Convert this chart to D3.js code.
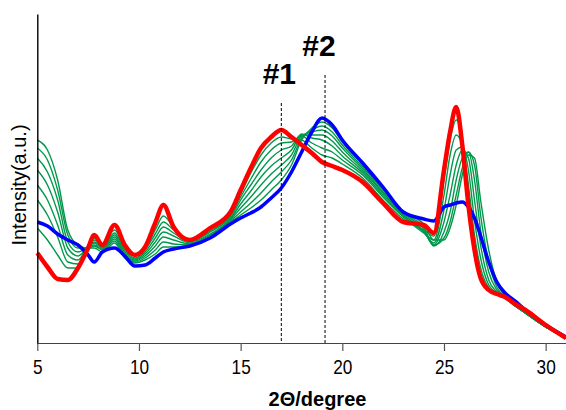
<!DOCTYPE html>
<html>
<head>
<meta charset="utf-8">
<script src="https://cdn.jsdelivr.net/npm/d3@7"></script>
<style>
  body { margin: 0; background: #fff; }
  svg { display: block; }
</style>
</head>
<body>
<div id="graph"></div>
<script>
// 2theta sample positions (degree)
var twoTheta = [5, 5.5, 6, 6.5, 7, 7.5, 7.8, 8.2, 8.8, 9.3, 9.8, 10.3, 10.8, 11.2, 11.7, 12.5, 13.5, 14.5, 15, 15.5,
                16, 16.5, 17, 17.5, 18, 18.5, 19, 19.5, 20, 21, 22, 23, 24, 24.5, 25, 25.3, 25.6, 25.9, 26.2, 26.5,
                26.8, 27.2, 27.6, 28, 28.5, 29, 30, 31];

// intensity (a.u.)
var blueScan = [121, 117, 109, 103, 98, 88, 81, 91, 95, 87, 77, 78, 85, 91, 94, 97, 105, 119, 125, 130,
                136, 145, 155, 171, 191, 211, 225, 218, 203, 180, 156, 131, 124, 122, 136, 138, 140, 141, 136, 125,
                107, 81, 61, 50, 42, 33, 18, 6];

var redScan = [90, 76, 64, 63, 75, 95, 108, 98, 118, 98, 88, 96, 120, 138, 116, 103, 115, 131, 153, 175,
               195, 206, 213, 206, 198, 190, 181, 177, 173, 161, 140, 121, 118, 110, 173, 211, 236, 198, 138, 93,
               65, 53, 49, 46, 39, 33, 18, 5];

var green1 = [203, 193, 163, 113, 98, 95, 95, 91, 100, 85, 80, 83, 89, 96, 96, 97, 105, 121, 128, 135,
              143, 153, 163, 178, 203, 215, 221, 215, 201, 178, 154, 131, 119, 103, 103, 115, 138, 168, 188, 185,
              143, 93, 61, 47, 38, 30, 16, 5];
var green2 = [195, 183, 153, 108, 95, 95, 97, 93, 102, 86, 81, 85, 93, 101, 99, 98, 106, 122, 131, 140,
              150, 161, 171, 183, 205, 213, 217, 211, 198, 176, 153, 130, 116, 98, 105, 121, 148, 175, 191, 178,
              128, 81, 56, 46, 38, 30, 16, 5];
var green3 = [185, 171, 143, 101, 91, 96, 98, 94, 104, 88, 82, 87, 97, 106, 103, 99, 107, 123, 135, 146,
              158, 169, 178, 188, 207, 211, 213, 207, 195, 174, 151, 129, 114, 97, 111, 131, 163, 185, 191, 163,
              113, 71, 53, 46, 38, 30, 16, 5];
var green4 = [173, 158, 131, 95, 87, 96, 100, 95, 106, 89, 83, 89, 101, 111, 107, 100, 108, 124, 139, 152,
              166, 177, 185, 193, 208, 208, 208, 202, 191, 172, 150, 128, 112, 98, 121, 148, 178, 193, 185, 143,
              98, 63, 51, 45, 37, 30, 16, 5];
var green5 = [158, 143, 118, 88, 83, 97, 101, 96, 108, 91, 84, 91, 105, 116, 110, 101, 109, 125, 143, 158,
              173, 185, 193, 197, 209, 205, 203, 197, 187, 170, 148, 127, 111, 100, 133, 168, 193, 196, 173, 123,
              85, 58, 50, 45, 37, 30, 16, 5];
var green6 = [143, 128, 106, 81, 79, 97, 103, 97, 110, 93, 85, 93, 109, 121, 113, 102, 111, 127, 146, 164,
              181, 193, 200, 201, 207, 200, 195, 191, 183, 168, 146, 126, 110, 103, 148, 188, 208, 198, 158, 108,
              75, 55, 49, 45, 37, 30, 16, 5];
var green7 = [115, 103, 88, 75, 75, 98, 105, 98, 113, 95, 87, 94, 113, 127, 116, 102, 112, 129, 149, 170,
              188, 200, 206, 204, 203, 195, 188, 185, 179, 165, 143, 124, 113, 107, 163, 203, 223, 203, 143, 98,
              68, 53, 49, 45, 37, 30, 16, 5];

var xTicks = [5, 10, 15, 20, 25, 30];
var markPos = [17.0, 19.15];
var markText = ["#1", "#2"];
var markTop = [240, 268];   // where the dashed line stops, in intensity units

var width = 566;
var height = 410;
var margin = {top: 14, right: 0, bottom: 67, left: 37.3};

var x = d3.scaleLinear()
          .domain([5, 31])
          .range([margin.left, width - margin.right]);

var y = d3.scaleLinear()
          .domain([0, 329])
          .range([height - margin.bottom, margin.top]);

var svg = d3.select("#graph")
            .append("svg")
            .attr("width", width)
            .attr("height", height);

var line = d3.line()
             .x(function(d, i) { return x(twoTheta[i]); })
             .y(function(d) { return y(d); })
             .curve(d3.curveMonotoneX);

var greens = [green1, green2, green3, green4, green5, green6, green7];

svg.append("g")
   .selectAll("path")
   .data(greens)
   .enter().append("path")
   .attr("d", line)
   .attr("fill", "none")
   .attr("stroke", "#00994c")
   .attr("stroke-width", 1.4);

svg.append("path")
   .datum(blueScan)
   .attr("d", line)
   .attr("fill", "none")
   .attr("stroke", "#0000ff")
   .attr("stroke-width", 3.5);

svg.append("path")
   .datum(redScan)
   .attr("d", line)
   .attr("fill", "none")
   .attr("stroke", "#ff0000")
   .attr("stroke-width", 4.5)
   .attr("stroke-linejoin", "round");

// dashed markers
svg.selectAll(".marker")
   .data(markPos)
   .enter().append("line")
   .attr("class", "marker")
   .attr("x1", function(d) { return x(d); })
   .attr("x2", function(d) { return x(d); })
   .attr("y1", function(d, i) { return y(markTop[i]); })
   .attr("y2", y(0))
   .attr("stroke", "#000")
   .attr("stroke-width", 1)
   .attr("stroke-dasharray", "3,2");

svg.selectAll(".markLabel")
   .data(markPos)
   .enter().append("text")
   .attr("class", "markLabel")
   .attr("x", function(d, i) { return x(d) - 2 + i * -4; })
   .attr("y", function(d, i) { return y(markTop[i]) - 19; })
   .attr("text-anchor", "middle")
   .style("font-family", "'Liberation Sans', Arial, sans-serif")
   .style("font-weight", "bold")
   .style("font-size", "30px")
   .text(function(d, i) { return markText[i]; });

// axes
var xAxis = svg.append("g")
   .attr("transform", "translate(0," + y(0) + ")")
   .call(d3.axisBottom(x).tickValues(xTicks).tickSize(8).tickSizeOuter(0).tickPadding(8));

xAxis.select(".domain").attr("stroke", "#444").attr("stroke-width", 1.2);
xAxis.selectAll(".tick line").attr("stroke", "#555").attr("stroke-width", 1.2);
// narrow gothic-looking digits
xAxis.selectAll(".tick text")
     .attr("transform", "scale(0.82,1)")
     .style("font-family", "'Liberation Sans', Arial, sans-serif")
     .style("font-size", "21px")
     .attr("fill", "#000");

var yAxis = svg.append("g")
   .attr("transform", "translate(" + margin.left + ",0)")
   .call(d3.axisLeft(y).tickValues([]).tickSizeOuter(0));

yAxis.select(".domain").attr("stroke", "#000").attr("stroke-width", 1.4);

svg.append("text")
   .attr("x", 317.5)
   .attr("y", 406)
   .attr("text-anchor", "middle")
   .style("font-family", "'Liberation Sans', Arial, sans-serif")
   .style("font-weight", "bold")
   .style("font-size", "20px")
   .text("2\u0398/degree");

svg.append("text")
   .attr("transform", "translate(26,185) rotate(-90)")
   .attr("text-anchor", "middle")
   .style("font-family", "'Liberation Sans', Arial, sans-serif")
   .style("font-size", "20px")
   .text("Intensity(a.u.)");
</script>
</body>
</html>
